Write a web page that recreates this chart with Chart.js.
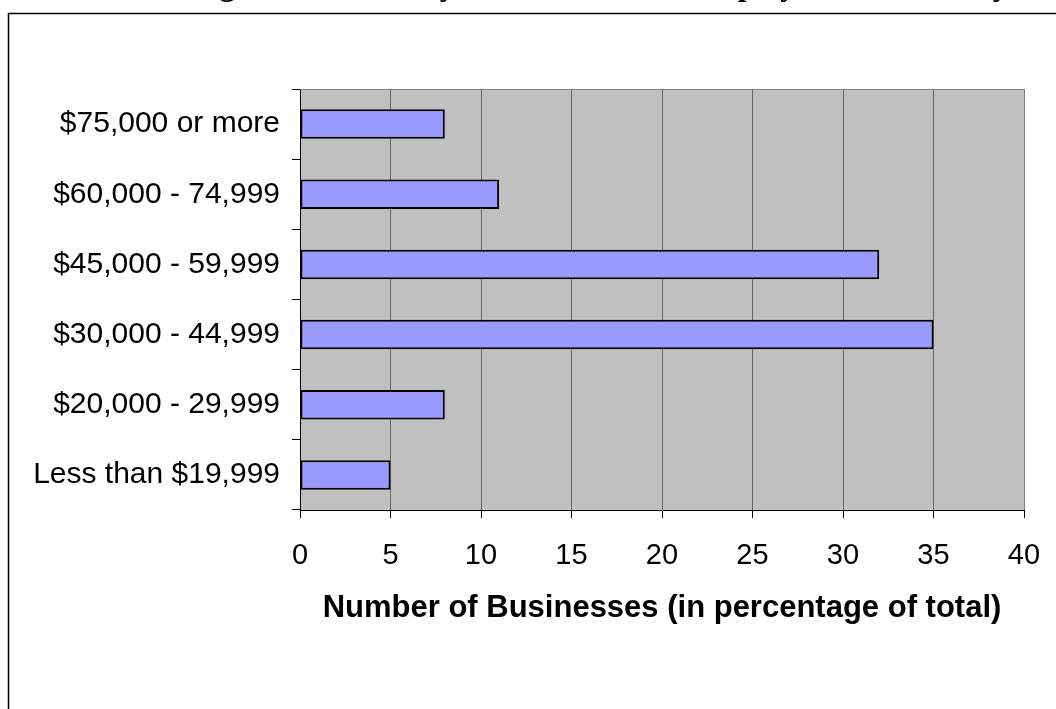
<!DOCTYPE html>
<html>
<head>
<meta charset="utf-8">
<script src="https://cdn.jsdelivr.net/npm/chart.js@4.4.1/dist/chart.umd.min.js"></script>
<style>
  html, body { margin: 0; padding: 0; background: #fff; }
  #wrap { width: 1056px; height: 709px; position: relative; }
</style>
</head>
<body>
<div id="wrap"><canvas id="c" width="1056" height="709"></canvas></div>
<script>
const categories = ["$75,000 or more", "$60,000 - 74,999", "$45,000 - 59,999", "$30,000 - 44,999", "$20,000 - 29,999", "Less than $19,999"];
const values = [8, 11, 32, 35, 8, 5];
const xTickMin = 0;
const xTickMax = 40;
const xTickStep = 5;
const xAxisTitle = "Number of Businesses (in percentage of total)";
const chartTitle = "Average Annual Salary Offered to Each Employee, 2006 Survey";

const sans = "'Liberation Sans', Arial, sans-serif";

const decor = {
  id: 'decor',
  beforeDraw(chart) {
    const ctx = chart.ctx;
    const a = chart.chartArea;
    ctx.save();
    ctx.fillStyle = '#fff';
    ctx.fillRect(0, 0, chart.width, chart.height);
    // clipped title (only descenders visible)
    ctx.fillStyle = '#000';
    ctx.font = "bold 32px 'Liberation Serif', 'Times New Roman', serif";
    ctx.textAlign = 'left';
    ctx.textBaseline = 'alphabetic';
    ctx.fillText(chartTitle, 138, -5);
    // outer frame
    ctx.strokeStyle = '#000';
    ctx.lineWidth = 1.5;
    ctx.beginPath();
    ctx.moveTo(8.5, chart.height + 2);
    ctx.lineTo(8.5, 13.5);
    ctx.lineTo(chart.width + 2, 13.5);
    ctx.stroke();
    // plot background
    ctx.fillStyle = '#C0C0C0';
    ctx.fillRect(a.left, a.top, a.right - a.left, a.bottom - a.top);
    ctx.restore();
  },
  afterDraw(chart) {
    const ctx = chart.ctx;
    const a = chart.chartArea;
    ctx.save();
    ctx.strokeStyle = '#808080';
    ctx.lineWidth = 1;
    ctx.beginPath();
    ctx.moveTo(a.left, a.top + 0.5);
    ctx.lineTo(a.right + 0.5, a.top + 0.5);
    ctx.lineTo(a.right + 0.5, a.bottom);
    ctx.stroke();
    ctx.restore();
  }
};

new Chart(document.getElementById('c'), {
  type: 'bar',
  data: {
    labels: categories,
    datasets: [{
      data: values,
      backgroundColor: '#9999FF',
      borderColor: '#000000',
      borderWidth: 2,
      borderSkipped: false,
      barPercentage: 0.42,
      categoryPercentage: 1.0
    }]
  },
  options: {
    indexAxis: 'y',
    responsive: false,
    animation: false,
    devicePixelRatio: 1,
    layout: { padding: { left: 0, right: 32, top: 89, bottom: 0 } },
    plugins: {
      legend: { display: false },
      title: { display: false },
      tooltip: { enabled: false }
    },
    scales: {
      x: {
        type: 'linear',
        min: xTickMin,
        max: xTickMax,
        afterFit(scale) { scale.height = 199; scale.paddingRight = 0; scale.paddingLeft = 0; },
        ticks: {
          stepSize: xTickStep,
          color: '#000',
          font: { family: sans, size: 29 },
          padding: 21,
          maxRotation: 0
        },
        grid: {
          color: '#666666',
          lineWidth: 1,
          tickColor: '#000',
          tickLength: 8,
          drawOnChartArea: true
        },
        border: { display: true, color: '#000', width: 1 },
        title: {
          display: true,
          text: xAxisTitle,
          color: '#000',
          font: { family: sans, size: 31, weight: 'bold' },
          padding: { top: 0, bottom: 82 }
        }
      },
      y: {
        afterFit(scale) { scale.width = 300; scale.paddingTop = 0; scale.paddingBottom = 0; },
        ticks: {
          color: '#000',
          font: { family: sans, size: 30 },
          padding: 12
        },
        grid: {
          offset: true,
          drawOnChartArea: false,
          color: '#000',
          tickColor: '#000',
          tickLength: 8,
          lineWidth: 1
        },
        border: { display: true, color: '#000', width: 1 }
      }
    }
  },
  plugins: [decor]
});
</script>
</body>
</html>
